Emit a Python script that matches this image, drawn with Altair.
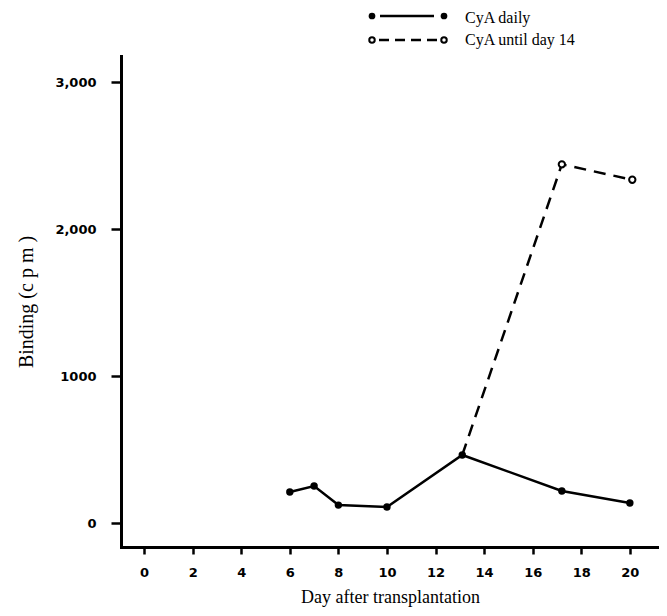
import altair as alt
import pandas as pd

# Data
daily_days = [6, 7, 8, 10, 13.1, 17.2, 20]
daily_vals = [211, 252, 122, 109, 463, 218, 136]

until_days = [13.1, 17.2, 20.1]
until_vals = [463, 2440, 2335]

x_ticks = [0, 2, 4, 6, 8, 10, 12, 14, 16, 18, 20]
y_ticks = [0, 1000, 2000, 3000]
y_labels = ["0", "1000", "2,000", "3,000"]

series_names = ["CyA daily", "CyA until day 14"]

daily = pd.DataFrame({"day": daily_days, "binding": daily_vals, "series": series_names[0]})
until = pd.DataFrame({"day": until_days, "binding": until_vals, "series": series_names[1]})

ylab_expr = "{" + ",".join(f"'{v}':'{l}'" for v, l in zip(y_ticks, y_labels)) + "}[datum.value]"

xscale = alt.Scale(domain=[-0.95, 21.2], nice=False, zero=False)
yscale = alt.Scale(domain=[-163, 3177], nice=False, zero=False)

x_enc = alt.X("day:Q", scale=xscale, axis=alt.Axis(
    values=x_ticks, title="Day after transplantation", grid=False,
    tickSize=7, tickWidth=2.5, tickColor="black", domainWidth=3, domainColor="black",
    labelFont="DejaVu Sans", labelFontWeight="bold", labelFontSize=13, labelColor="black",
    labelPadding=12, titleFont="Liberation Serif", titleFontSize=18,
    titleFontWeight="normal", titleColor="black", titlePadding=9))
y_enc = alt.Y("binding:Q", scale=yscale, axis=alt.Axis(
    values=y_ticks, labelExpr=ylab_expr, title="Binding (c p m )", grid=False,
    tickSize=10, tickWidth=2.5, tickColor="black", domainWidth=3, domainColor="black",
    labelFont="DejaVu Sans", labelFontWeight="bold", labelFontSize=13, labelColor="black",
    labelPadding=15, titleFont="Liberation Serif", titleFontSize=20,
    titleFontWeight="normal", titleColor="black", titlePadding=18))

daily_line = alt.Chart(daily).mark_line(color="black", strokeWidth=2.5).encode(x=x_enc, y=y_enc)
daily_pts = alt.Chart(daily).mark_point(filled=True, color="black", size=55, opacity=1).encode(x="day:Q", y="binding:Q")

until_line = alt.Chart(until).mark_line(color="black", strokeWidth=2.5, strokeDash=[12, 8]).encode(x="day:Q", y="binding:Q")
until_pts = alt.Chart(until.iloc[1:]).mark_point(filled=True, fill="white", stroke="black", strokeWidth=2, size=40, opacity=1).encode(x="day:Q", y="binding:Q")

one = pd.DataFrame({"a": [0]})
base = alt.Chart(one)
# custom legend (positions in pixels relative to plot area)
leg_solid = base.mark_rule(color="black", strokeWidth=2.5).encode(x=alt.value(259), x2=alt.value(313), y=alt.value(-40))
leg_dot1 = base.mark_point(filled=True, color="black", size=45, opacity=1).encode(x=alt.value(251), y=alt.value(-40))
leg_dot2 = base.mark_point(filled=True, color="black", size=45, opacity=1).encode(x=alt.value(323), y=alt.value(-40))
leg_t1 = base.mark_text(align="left", baseline="middle", font="Liberation Serif", fontSize=16, color="black").encode(
    x=alt.value(344), y=alt.value(-38), text=alt.value(series_names[0]))

leg_dash = base.mark_rule(color="black", strokeWidth=2.5, strokeDash=[10, 6]).encode(x=alt.value(258), x2=alt.value(318), y=alt.value(-16))
leg_o1 = base.mark_point(filled=True, fill="white", stroke="black", strokeWidth=2, size=30, opacity=1).encode(x=alt.value(251), y=alt.value(-16))
leg_o2 = base.mark_point(filled=True, fill="white", stroke="black", strokeWidth=2, size=30, opacity=1).encode(x=alt.value(323), y=alt.value(-16))
leg_t2 = base.mark_text(align="left", baseline="middle", font="Liberation Serif", fontSize=16, color="black").encode(
    x=alt.value(344), y=alt.value(-16), text=alt.value(series_names[1]))

chart = alt.layer(
    daily_line, until_line, daily_pts, until_pts,
    leg_solid, leg_dot1, leg_dot2, leg_t1, leg_dash, leg_o1, leg_o2, leg_t2
).properties(
    width=538, height=491,
    autosize=alt.AutoSizeParams(type="none"),
    padding={"left": 113, "top": 48, "right": 0, "bottom": 60},
).configure_view(stroke=None).configure_axis(domainCap="square")

chart.save("out.html", embed_options={"renderer": "svg", "actions": False})
